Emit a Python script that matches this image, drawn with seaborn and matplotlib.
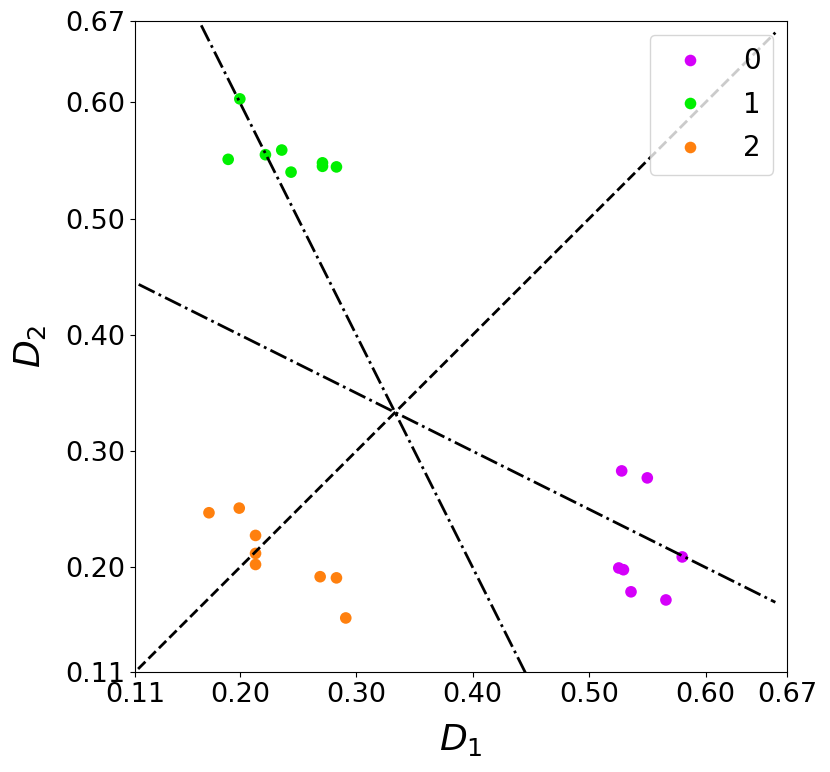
#!/usr/bin/env python3

import numpy as np
import pandas as pd
import matplotlib
matplotlib.use('Agg')
import matplotlib.pyplot as plt
import seaborn as sns

# class 0 (magenta)
d1_c0 = [0.528, 0.550, 0.580, 0.5255, 0.5295, 0.536, 0.566]
d2_c0 = [0.283, 0.277, 0.209, 0.1995, 0.198, 0.179, 0.172]
# class 1 (green)
d1_c1 = [0.200, 0.190, 0.222, 0.236, 0.244, 0.271, 0.271, 0.283]
d2_c1 = [0.603, 0.551, 0.555, 0.559, 0.540, 0.548, 0.545, 0.5445]
# class 2 (orange)
d1_c2 = [0.1735, 0.1995, 0.2135, 0.2135, 0.2135, 0.269, 0.283, 0.291]
d2_c2 = [0.247, 0.251, 0.2275, 0.212, 0.2025, 0.192, 0.191, 0.1565]

labels = ['0', '1', '2']
colors = ['#d500fa', '#00f000', '#ff800e']
ticks = [0.11, 0.20, 0.30, 0.40, 0.50, 0.60, 0.67]
lim = (0.11, 0.67)

df = pd.DataFrame({
    'D1': d1_c0 + d1_c1 + d1_c2,
    'D2': d2_c0 + d2_c1 + d2_c2,
    'cls': ['0'] * len(d1_c0) + ['1'] * len(d1_c1) + ['2'] * len(d1_c2),
})

fig = plt.figure(figsize=(8.3, 7.72), dpi=100)
ax = fig.add_axes([0.1627, 0.1295, 0.7855, 0.8433])

sns.scatterplot(data=df, x='D1', y='D2', hue='cls', hue_order=labels,
                palette=dict(zip(labels, colors)), s=70, linewidth=0, ax=ax)

# decision boundaries through (1/3, 1/3)
x = np.array([0.0, 0.66])
ax.plot(x, x, 'k--', lw=2)                 # D1 = D2
ax.plot(x, 1 - 2 * x, 'k-.', lw=2)         # D1 = D3
ax.plot(x, (1 - x) / 2, 'k-.', lw=2)       # D2 = D3

ax.set_xlim(lim)
ax.set_ylim(lim)
ax.set_xticks(ticks)
ax.set_yticks(ticks)
ax.set_xticklabels(['%.2f' % t for t in ticks], fontsize=19.5)
ax.set_yticklabels(['%.2f' % t for t in ticks], fontsize=19.5)
ax.set_xlabel('$D_1$', fontsize=26, labelpad=10)
ax.set_ylabel('$D_2$', fontsize=26, labelpad=12)

ax.legend(loc='upper right', fontsize=20, title=None,
          labelspacing=0.56, borderpad=0.45, handletextpad=0.9)

plt.savefig('out.png', dpi=100)
plt.close()
